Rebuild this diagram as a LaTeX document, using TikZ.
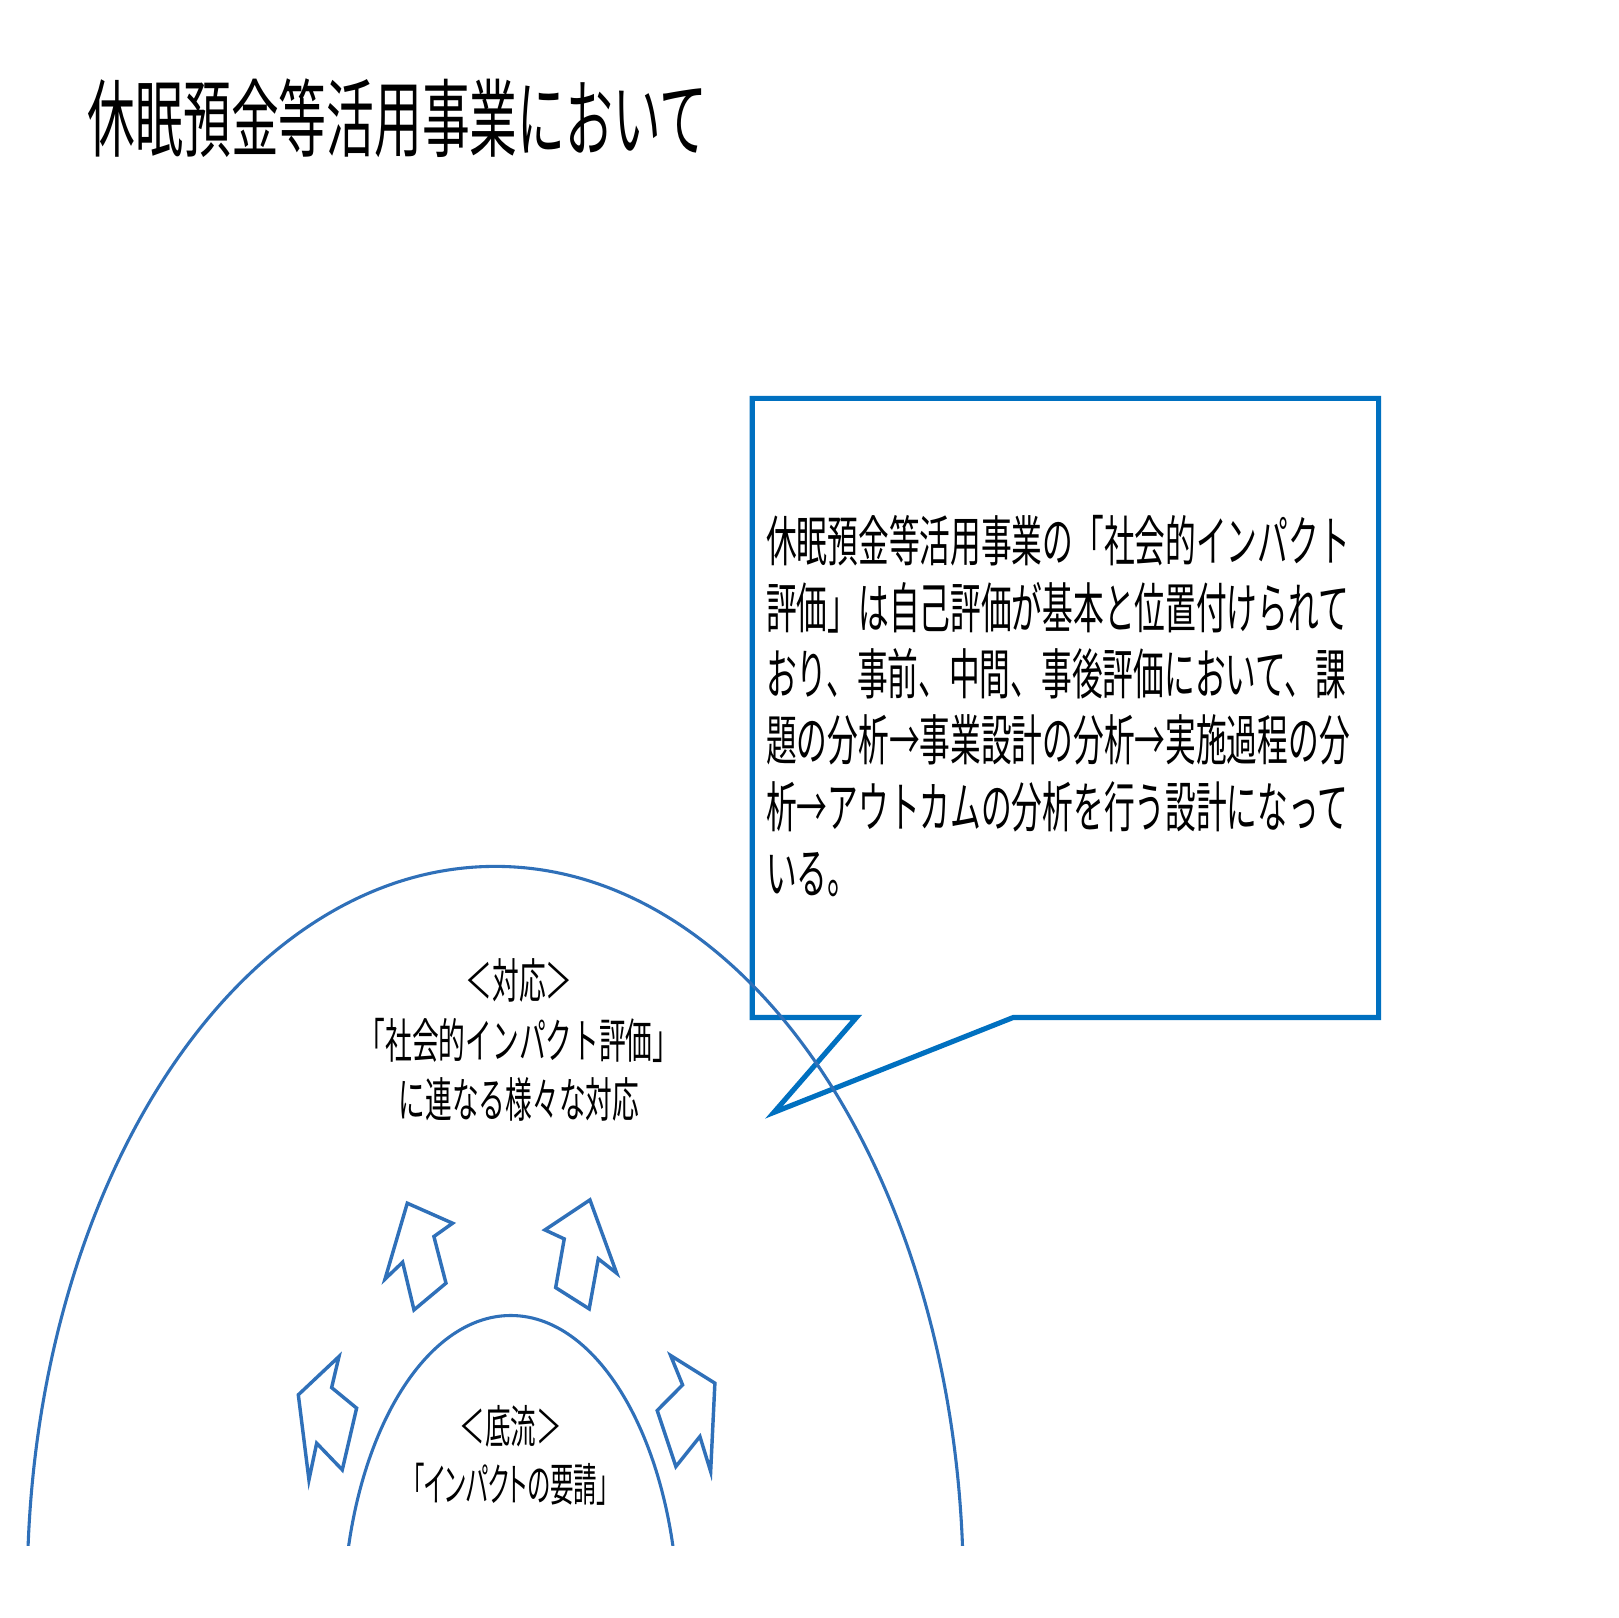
\documentclass[tikz,border=0pt]{standalone}
\usepackage{fontspec}
\newfontfamily\jp{Noto Sans CJK JP}
\newfontfamily\jpp[RawFeature=+palt]{Noto Sans CJK JP}
\definecolor{boxblue}{RGB}{0,112,192}
\definecolor{arcblue}{RGB}{47,112,185}
\begin{document}
\begin{tikzpicture}[x=0.01cm,y=-0.01cm,
  jt/.style={inner sep=0pt, outer sep=0pt, xscale=0.5625, text=black},
  titletext/.style={jt, anchor=base west, font={\jp\fontsize{23.4}{28}\selectfont}},
  calltext/.style={jt, anchor=base west, font={\jp\fontsize{15.05}{18}\selectfont}},
  resptext/.style={jt, anchor=base, font={\jp\fontsize{13.1}{16}\selectfont}},
  basetext/.style={jt, anchor=base, font={\jpp\fontsize{12.5}{15}\selectfont}},
  archline/.style={draw=arcblue, line width=0.85pt},
  blockarrow/.style={draw=arcblue, line width=0.95pt, line join=miter},
  callout/.style={draw=boxblue, line width=1.4pt, line join=miter}]
\useasboundingbox (0,0) rectangle (1568,1568);
\fill[white] (0,0) rectangle (1568,1568);

% title
\node[titletext] (t0) at (85,146.2) {休眠預金等活用事業において};

% callout
\draw[callout] (729,386) -- (1336,386) -- (1336,986) -- (982,986) -- (750,1078) -- (830,986) -- (729,986) -- cycle;
\node[calltext] (c1) at (742.5,544.3) {休眠預金等活用事業の「社会的インパクト};
\node[calltext] (c2) at (742.5,608.6) {評価」は自己評価が基本と位置付けられて};
\node[calltext] (c3) at (742.5,672.9) {おり、事前、中間、事後評価において、課};
\node[calltext] (c4) at (742.5,737.2) {題の分析→事業設計の分析→実施過程の分};
\node[calltext] (c5) at (742.5,801.5) {析→アウトカムの分析を行う設計になって};
\node[calltext] (c6) at (742.5,865.8) {いる。};

% arches
\begin{scope}
  \clip (0,0) rectangle (1568,1498);
  \draw[archline] (480,1540) ellipse [x radius=4.533cm, y radius=7cm];
  \draw[archline] (495,1575) ellipse [x radius=1.624cm, y radius=3cm];
\end{scope}

% block arrows
\draw[blockarrow] (394.7,1166.0) -- (438.6,1185.4) -- (420.5,1198.3) -- (432.2,1243.5) -- (401.2,1269.4) -- (390.2,1223.2) -- (373.1,1239.6) -- cycle;
\draw[blockarrow] (571.7,1162.8) -- (597.6,1233.8) -- (579.8,1219.9) -- (571.0,1268.4) -- (538.5,1247.8) -- (546.8,1200.6) -- (528.1,1191.9) -- cycle;
\draw[blockarrow] (328.5,1314.6) -- (321.4,1344.7) -- (345.6,1364.6) -- (331.7,1424.4) -- (306.9,1398.6) -- (299.4,1434.1) -- (289.1,1351.7) -- cycle;
\draw[blockarrow] (649.9,1313.6) -- (692.8,1340.4) -- (688.7,1426.0) -- (678.3,1392.1) -- (655.0,1421.2) -- (636.9,1366.9) -- (661.5,1342.1) -- cycle;

% response text
\node[resptext] (r1) at (503,967.9) {＜対応＞};
\node[resptext] (r2) at (503,1025.4) {「社会的インパクト評価」};
\node[resptext] (r3) at (503,1082.9) {に連なる様々な対応};

% undercurrent text
\node[basetext] (s1) at (495,1399.2) {＜底流＞};
\node[basetext, xscale=0.92] (s2) at (495,1454.9) {「インパクトの要請」};
\end{tikzpicture}
\end{document}
